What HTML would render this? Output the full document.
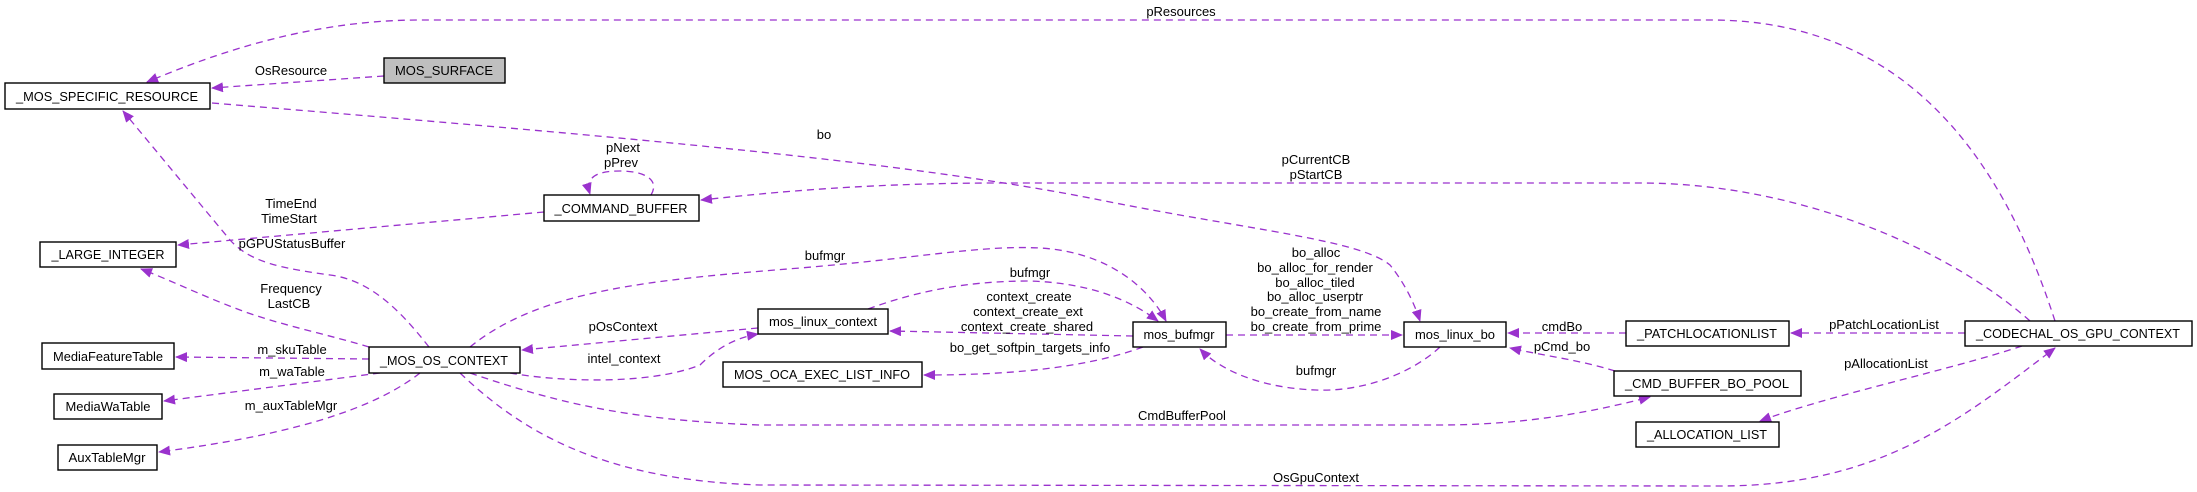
<!DOCTYPE html>
<html><head><meta charset="utf-8"><style>
html,body{margin:0;padding:0;background:#fff;}
svg{display:block;}
text{font-family:"Liberation Sans",sans-serif;font-size:13px;fill:#000;}
.e{fill:none;stroke:#9a32cd;stroke-width:1.3;stroke-dasharray:7,5;marker-end:url(#a);}
.b{fill:#fff;stroke:#000;stroke-width:1.4;}
</style></head><body>
<svg width="2197" height="492" viewBox="0 0 2197 492" xmlns="http://www.w3.org/2000/svg">
<defs><marker id="a" markerWidth="12" markerHeight="10" refX="11" refY="5" orient="auto" markerUnits="userSpaceOnUse"><path d="M0,0 L12,5 L0,10 z" fill="#9a32cd"/></marker></defs>

<!-- edges -->
<path class="e" d="M2055,321 C2000,150 1900,20 1710,20 L420,20 C300,20 200,60 147,82"/>
<path class="e" d="M384,76 L212,88"/>
<path class="e" d="M212,103 C600,135 900,160 1100,200 C1250,230 1360,240 1390,265 Q1410,290 1420,321"/>
<path class="e" d="M2030,321 C1950,250 1800,183 1640,183 L1000,183 C850,183 750,195 701,200"/>
<path class="e" d="M651,195 C660,180 645,171 620,171 C595,171 585,178 590,194"/>
<path class="e" d="M544,212 L178,245"/>
<path class="e" d="M429,347 C400,310 370,280 330,275 C280,268 250,262 230,240 L123,111"/>
<path class="e" d="M369,347 C330,335 280,325 240,310 C200,295 170,280 141,269"/>
<path class="e" d="M369,359 L176,357"/>
<path class="e" d="M380,373 L164,401"/>
<path class="e" d="M420,373 C360,420 250,440 159,452"/>
<path class="e" d="M470,347 C540,290 650,280 800,268 C920,258 980,245 1040,248 C1110,252 1150,290 1166,321"/>
<path class="e" d="M758,328 L522,350"/>
<path class="e" d="M510,373 C560,382 650,385 700,365 C720,345 740,337 758,334"/>
<path class="e" d="M868,309 C920,290 970,281 1030,281 C1090,283 1130,300 1158,321"/>
<path class="e" d="M1133,336 L890,331"/>
<path class="e" d="M1143,347 C1080,370 1000,375 924,375"/>
<path class="e" d="M1226,335 L1402,335"/>
<path class="e" d="M1440,347 C1410,375 1360,392 1316,390 C1260,388 1220,370 1200,349"/>
<path class="e" d="M470,373 C550,400 620,420 760,425 L1440,425 C1530,425 1600,410 1650,397"/>
<path class="e" d="M460,373 C520,430 600,480 760,485 L1720,486 C1880,486 1960,420 2055,348"/>
<path class="e" d="M1626,333 L1508,333"/>
<path class="e" d="M1615,371 C1580,360 1545,356 1510,348"/>
<path class="e" d="M1965,333 L1791,333"/>
<path class="e" d="M2022,346 C1950,370 1830,395 1760,421"/>

<!-- nodes -->
<rect class="b" x="5" y="83" width="205" height="26"/>
<text x="107" y="101" text-anchor="middle" textLength="182" lengthAdjust="spacingAndGlyphs">_MOS_SPECIFIC_RESOURCE</text>
<rect x="384" y="58" width="121" height="25" fill="#bfbfbf" stroke="#000" stroke-width="1.4"/>
<text x="444" y="75" text-anchor="middle" textLength="98" lengthAdjust="spacingAndGlyphs">MOS_SURFACE</text>
<rect class="b" x="544" y="195" width="155" height="26"/>
<text x="621" y="213" text-anchor="middle" textLength="133" lengthAdjust="spacingAndGlyphs">_COMMAND_BUFFER</text>
<rect class="b" x="40" y="242" width="136" height="25"/>
<text x="108" y="259" text-anchor="middle" textLength="113" lengthAdjust="spacingAndGlyphs">_LARGE_INTEGER</text>
<rect class="b" x="42" y="343" width="132" height="26"/>
<text x="108" y="361" text-anchor="middle" textLength="110" lengthAdjust="spacingAndGlyphs">MediaFeatureTable</text>
<rect class="b" x="54" y="394" width="108" height="25"/>
<text x="108" y="411" text-anchor="middle" textLength="85" lengthAdjust="spacingAndGlyphs">MediaWaTable</text>
<rect class="b" x="58" y="445" width="99" height="25"/>
<text x="107" y="462" text-anchor="middle" textLength="77" lengthAdjust="spacingAndGlyphs">AuxTableMgr</text>
<rect class="b" x="369" y="347" width="151" height="26"/>
<text x="444" y="365" text-anchor="middle" textLength="128" lengthAdjust="spacingAndGlyphs">_MOS_OS_CONTEXT</text>
<rect class="b" x="758" y="309" width="130" height="25"/>
<text x="823" y="326" text-anchor="middle" textLength="108" lengthAdjust="spacingAndGlyphs">mos_linux_context</text>
<rect class="b" x="723" y="362" width="199" height="25"/>
<text x="822" y="379" text-anchor="middle" textLength="176" lengthAdjust="spacingAndGlyphs">MOS_OCA_EXEC_LIST_INFO</text>
<rect class="b" x="1133" y="322" width="93" height="25"/>
<text x="1179" y="339" text-anchor="middle" textLength="71" lengthAdjust="spacingAndGlyphs">mos_bufmgr</text>
<rect class="b" x="1404" y="322" width="102" height="25"/>
<text x="1455" y="339" text-anchor="middle" textLength="80" lengthAdjust="spacingAndGlyphs">mos_linux_bo</text>
<rect class="b" x="1626" y="321" width="163" height="25"/>
<text x="1707" y="338" text-anchor="middle" textLength="140" lengthAdjust="spacingAndGlyphs">_PATCHLOCATIONLIST</text>
<rect class="b" x="1965" y="321" width="227" height="25"/>
<text x="2078" y="338" text-anchor="middle" textLength="204" lengthAdjust="spacingAndGlyphs">_CODECHAL_OS_GPU_CONTEXT</text>
<rect class="b" x="1614" y="371" width="187" height="25"/>
<text x="1707" y="388" text-anchor="middle" textLength="164" lengthAdjust="spacingAndGlyphs">_CMD_BUFFER_BO_POOL</text>
<rect class="b" x="1636" y="422" width="143" height="25"/>
<text x="1707" y="439" text-anchor="middle" textLength="120" lengthAdjust="spacingAndGlyphs">_ALLOCATION_LIST</text>

<!-- labels -->
<g text-anchor="middle">
<text x="291" y="75">OsResource</text>
<text x="1181" y="16">pResources</text>
<text x="824" y="139">bo</text>
<text x="623" y="152">pNext</text>
<text x="621" y="167">pPrev</text>
<text x="1316" y="164">pCurrentCB</text>
<text x="1316" y="179">pStartCB</text>
<text x="291" y="208">TimeEnd</text>
<text x="289" y="223">TimeStart</text>
<text x="292" y="248">pGPUStatusBuffer</text>
<text x="291" y="293">Frequency</text>
<text x="289" y="308">LastCB</text>
<text x="292" y="354">m_skuTable</text>
<text x="292" y="376">m_waTable</text>
<text x="291" y="410">m_auxTableMgr</text>
<text x="825" y="260">bufmgr</text>
<text x="1030" y="277">bufmgr</text>
<text x="1029" y="301">context_create</text>
<text x="1028" y="316">context_create_ext</text>
<text x="1027" y="331">context_create_shared</text>
<text x="623" y="331">pOsContext</text>
<text x="624" y="363">intel_context</text>
<text x="1030" y="352">bo_get_softpin_targets_info</text>
<text x="1316" y="257">bo_alloc</text>
<text x="1315" y="272">bo_alloc_for_render</text>
<text x="1315" y="287">bo_alloc_tiled</text>
<text x="1315" y="301">bo_alloc_userptr</text>
<text x="1316" y="316">bo_create_from_name</text>
<text x="1316" y="331">bo_create_from_prime</text>
<text x="1316" y="375">bufmgr</text>
<text x="1182" y="420">CmdBufferPool</text>
<text x="1316" y="482">OsGpuContext</text>
<text x="1562" y="331">cmdBo</text>
<text x="1562" y="351">pCmd_bo</text>
<text x="1884" y="329">pPatchLocationList</text>
<text x="1886" y="368">pAllocationList</text>
</g>
</svg>
</body></html>
